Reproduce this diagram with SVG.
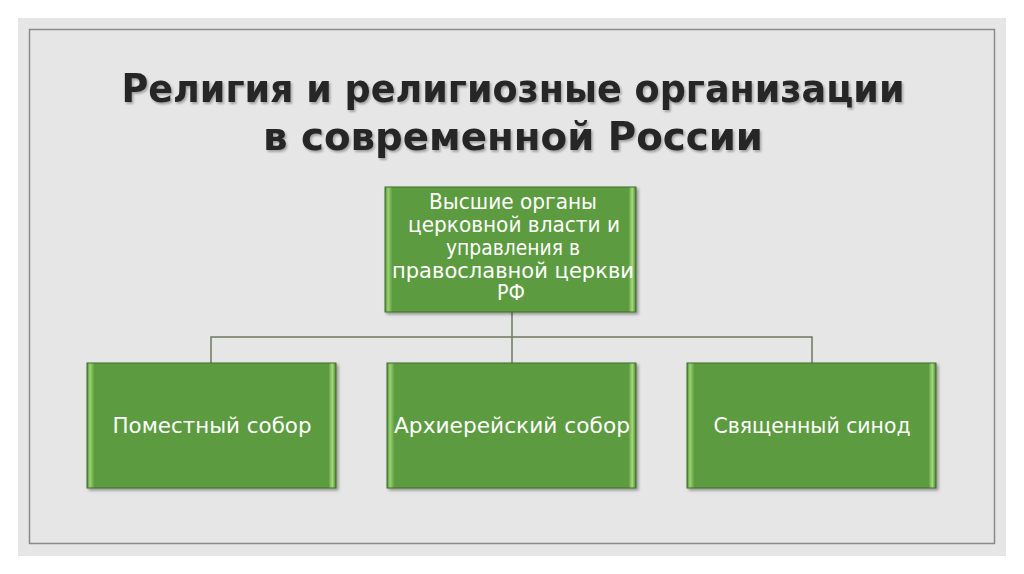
<svg xmlns="http://www.w3.org/2000/svg" width="1024" height="574" viewBox="0 0 1024 574">
<defs>
<linearGradient id="bevelH" x1="0" y1="0" x2="1" y2="0">
<stop offset="0" stop-color="#4f8a36"/>
<stop offset="0.012" stop-color="#9bd46f"/>
<stop offset="0.03" stop-color="#5c9b40"/>
<stop offset="0.97" stop-color="#5c9b40"/>
<stop offset="0.985" stop-color="#a6dc7c"/>
<stop offset="1" stop-color="#4a8331"/>
</linearGradient>
<filter id="shadow" x="-10%" y="-10%" width="130%" height="130%">
<feDropShadow dx="2" dy="2" stdDeviation="1.5" flood-color="#000" flood-opacity="0.35"/>
</filter>
<filter id="tshadow" x="-5%" y="-20%" width="110%" height="150%">
<feDropShadow dx="1.5" dy="2" stdDeviation="1.2" flood-color="#000" flood-opacity="0.3"/>
</filter>
</defs>
<style>
.box{fill:url(#bevelH);stroke:#3f6e2b;stroke-width:1;filter:url(#shadow)}
.lbl{font-family:"DejaVu Sans","Noto Sans",sans-serif;font-size:20.5px;fill:#ffffff;text-anchor:middle}
.title{font-family:"DejaVu Sans","Noto Sans",sans-serif;font-size:39px;font-weight:bold;fill:#262626;text-anchor:middle;filter:url(#tshadow)}
.conn{fill:none;stroke:#6e7a60;stroke-width:1.5}
</style>
<rect x="0" y="0" width="1024" height="574" fill="#ffffff"/>
<rect x="18" y="18" width="988" height="538" fill="#e6e6e6"/>
<rect x="29.5" y="29.5" width="965" height="514" fill="none" stroke="#8a8a8a" stroke-width="1.5"/>
<g id="title">
<text class="title" x="513" y="102" textLength="783" lengthAdjust="spacingAndGlyphs">Религия и религиозные организации</text>
<text class="title" x="513" y="150" textLength="500" lengthAdjust="spacingAndGlyphs">в современной России</text>
</g>
<g id="connectors">
<path class="conn" d="M512,312 V337 M211,363 V337 H812 V363 M512,337 V363"/>
</g>
<g id="node-top">
<rect class="box" x="385" y="187" width="251" height="125"/>
<text class="lbl" x="513" y="209" textLength="168" lengthAdjust="spacingAndGlyphs">Высшие органы</text>
<text class="lbl" x="514" y="232" textLength="212" lengthAdjust="spacingAndGlyphs">церковной власти и</text>
<text class="lbl" x="513" y="255" textLength="134" lengthAdjust="spacingAndGlyphs">управления в</text>
<text class="lbl" x="513" y="278" textLength="242" lengthAdjust="spacingAndGlyphs">православной церкви</text>
<text class="lbl" x="511" y="300" textLength="28" lengthAdjust="spacingAndGlyphs">РФ</text>
</g>
<g id="node-pomestny">
<rect class="box" x="87" y="363" width="249" height="125"/>
<text class="lbl" x="212" y="433" textLength="199" lengthAdjust="spacingAndGlyphs">Поместный собор</text>
</g>
<g id="node-arkhiereysky">
<rect class="box" x="387" y="363" width="249" height="125"/>
<text class="lbl" x="512" y="433" textLength="236" lengthAdjust="spacingAndGlyphs">Архиерейский собор</text>
</g>
<g id="node-sinod">
<rect class="box" x="687" y="363" width="249" height="125"/>
<text class="lbl" x="812" y="433" textLength="197" lengthAdjust="spacingAndGlyphs">Священный синод</text>
</g>
</svg>
